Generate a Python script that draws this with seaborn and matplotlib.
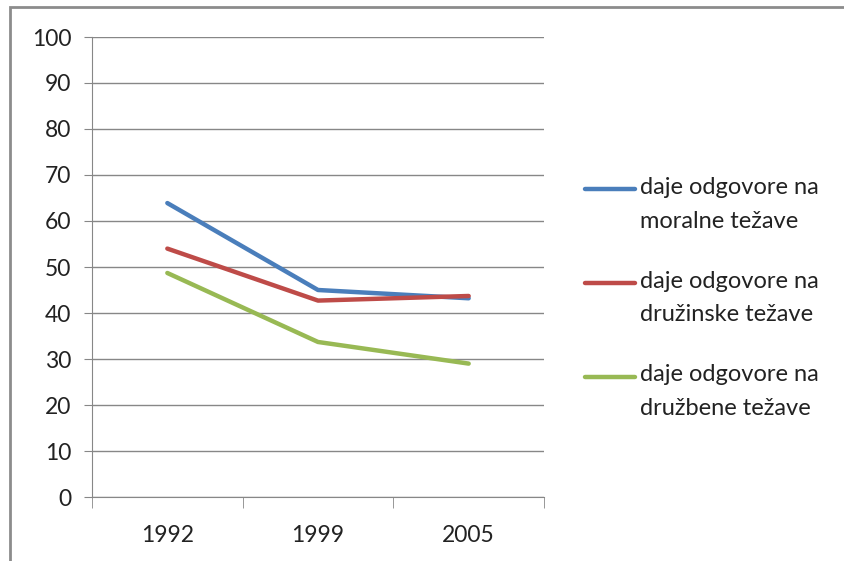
import matplotlib
matplotlib.use("Agg")
import matplotlib.pyplot as plt
from matplotlib.patches import Rectangle
from matplotlib.lines import Line2D
from matplotlib.legend_handler import HandlerLine2D
import numpy as np
import pandas as pd
import seaborn as sns

# podatki
years = ["1992", "1999", "2005"]
moralne = [63.9, 45.0, 43.2]
druzinske = [54.0, 42.7, 43.7]
druzbene = [48.7, 33.7, 29.0]
labels = ["daje odgovore na\nmoralne težave",
          "daje odgovore na\ndružinske težave",
          "daje odgovore na\ndružbene težave"]
colors = ["#4A7EBB", "#BE4B48", "#98B954"]

df = pd.DataFrame({
    "leto": years * 3,
    "vrednost": moralne + druzinske + druzbene,
    "serija": [labels[0]] * 3 + [labels[1]] * 3 + [labels[2]] * 3,
})


# legenda: crta ob prvi vrstici besedila, kot v Excelu
class FirstLineHandler(HandlerLine2D):
    def create_artists(self, legend, orig_handle, xdescent, ydescent,
                       width, height, fontsize, trans):
        artists = super().create_artists(legend, orig_handle, xdescent, ydescent,
                                         width, height, fontsize, trans)
        for a in artists:
            a.set_ydata(np.asarray(a.get_ydata(), dtype=float) + 10.8)
        return artists


sns.set_style("white")
plt.rcParams["font.family"] = ["Lato", "DejaVu Sans"]

fig = plt.figure(figsize=(8.45, 5.61), dpi=100)
ax = fig.add_axes([92 / 845, 64 / 561, 452 / 845, 460 / 561])

sns.lineplot(data=df, x="leto", y="vrednost", hue="serija", palette=colors,
             linewidth=3.2, sort=False, ax=ax, legend=True)

grey = "#878787"
ax.set_ylim(0, 100)
ax.set_yticks(range(0, 101, 10))
ax.set_xlim(-0.5, 2.5)
ax.set_xticks([0, 1, 2])
ax.set_xticks([-0.5, 0.5, 1.5, 2.5], minor=True)
ax.set_xlabel("")
ax.set_ylabel("")
ax.yaxis.grid(True, color=grey, linewidth=1)
ax.set_axisbelow(True)
for side in ["top", "right"]:
    ax.spines[side].set_visible(False)
ax.spines["left"].set_color(grey)
ax.spines["bottom"].set_color(grey)
ax.tick_params(axis="y", length=6, color=grey, labelsize=16.5, pad=9,
               left=True, labelcolor="#222222")
ax.tick_params(axis="x", which="major", length=0, labelsize=16.5, pad=20,
               labelcolor="#222222")
ax.tick_params(axis="x", which="minor", length=8, color=grey, bottom=True)

handles, labs = ax.get_legend_handles_labels()
ax.get_legend().remove()
leg = fig.legend(handles, labs, loc="center left", bbox_to_anchor=(585 / 845, 0.469),
                 frameon=False, fontsize=17, handlelength=2.1,
                 handletextpad=0.25, labelspacing=1.65, borderpad=0,
                 borderaxespad=0, handler_map={Line2D: FirstLineHandler()})
for t in leg.get_texts():
    t.set_linespacing(1.75)
    t.set_color("#222222")

# okvir grafikona
fig.add_artist(Rectangle((10 / 845, -0.1), 1.2, 1 - 7 / 561 + 0.1,
                         transform=fig.transFigure, fill=False,
                         edgecolor="#8c8c8c", linewidth=2))

fig.savefig("out.png", dpi=100)
